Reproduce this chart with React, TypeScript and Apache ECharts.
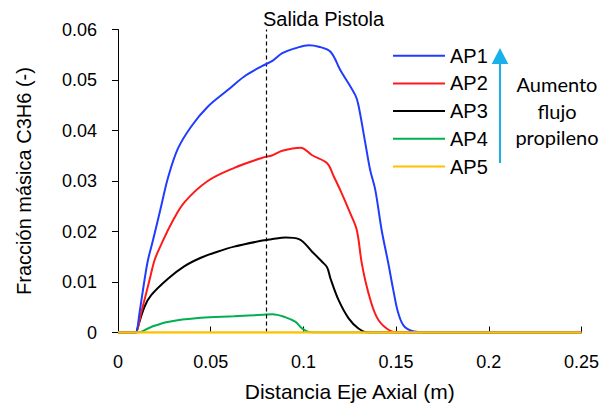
import React, { useEffect, useRef } from "react";
import * as echarts from "echarts";

const seriesNames = ["AP1", "AP2", "AP3", "AP4", "AP5"];
const seriesColors = ["#1f3cff", "#ff1a1a", "#000000", "#00b050", "#ffc000"];

const ap1: [number, number][] = [
  [0, 0], [0.009, 0], [0.0097, 0], [0.0116, 0.0039], [0.0143, 0.0104], [0.0162, 0.0144], [0.0189, 0.0183],
  [0.0234, 0.0252], [0.027, 0.0307], [0.0323, 0.0364], [0.0395, 0.0408], [0.0484, 0.0447],
  [0.0592, 0.048], [0.0681, 0.0507], [0.0779, 0.0528], [0.0833, 0.0538], [0.0886, 0.0553],
  [0.0958, 0.0563], [0.1029, 0.0569], [0.1083, 0.0566], [0.1146, 0.0556], [0.1199, 0.052],
  [0.128, 0.047], [0.1297, 0.045], [0.1334, 0.0375], [0.136, 0.0322], [0.1388, 0.0282],
  [0.1422, 0.0203], [0.1458, 0.0137], [0.1485, 0.0084], [0.1512, 0.0038], [0.1547, 0.0011],
  [0.162, 0.0001], [0.17, 0], [0.25, 0],
];
const ap2: [number, number][] = [
  [0, 0], [0.009, 0], [0.0097, 0], [0.0125, 0.0039], [0.017, 0.0104], [0.0198, 0.0144], [0.0234, 0.0175],
  [0.0288, 0.0216], [0.0359, 0.0258], [0.0484, 0.0300], [0.0627, 0.0326], [0.0779, 0.0346],
  [0.0833, 0.0351], [0.0886, 0.036], [0.0985, 0.0366], [0.1047, 0.0351], [0.1128, 0.0335],
  [0.1164, 0.0309], [0.1199, 0.0282], [0.1253, 0.0236], [0.1288, 0.0203], [0.1315, 0.0137],
  [0.1351, 0.0078], [0.1395, 0.0031], [0.1449, 0.0008], [0.151, 0], [0.25, 0],
];
const ap3: [number, number][] = [
  [0, 0], [0.009, 0], [0.0097, 0], [0.0107, 0.0011], [0.0143, 0.0051], [0.0179, 0.0074], [0.0268, 0.0106],
  [0.0357, 0.0131], [0.0447, 0.0148], [0.0536, 0.016], [0.0626, 0.017], [0.0779, 0.0182],
  [0.0833, 0.0185], [0.0904, 0.0188], [0.0976, 0.0185], [0.1047, 0.016], [0.1101, 0.014],
  [0.1128, 0.0129], [0.1146, 0.0107], [0.119, 0.0064], [0.1244, 0.0028], [0.1297, 0.0008],
  [0.1351, 0], [0.25, 0],
];
const ap4: [number, number][] = [
  [0, 0], [0.0107, 0], [0.0179, 0.0011], [0.0268, 0.0021], [0.0447, 0.0029], [0.0626, 0.0032],
  [0.0779, 0.0035], [0.0833, 0.0036], [0.0904, 0.003], [0.0958, 0.0021], [0.0993, 0.0008],
  [0.1029, 0.0001], [0.11, 0], [0.25, 0],
];
const ap5: [number, number][] = [
  [0, 0], [0.25, 0],
];
const seriesData = [ap1, ap2, ap3, ap4, ap5];

const salidaPistolaX = 0.0778;
const annotationLines = ["Aumento", "flujo", "propileno"];

export default function App() {
  const ref = useRef<HTMLDivElement>(null);
  useEffect(() => {
    if (!ref.current) return;
    const chart = echarts.init(ref.current, null, { renderer: "svg" });
    const font = "'Liberation Sans', Arial, sans-serif";
    const series: any[] = seriesNames.map((name, i) => ({
      name,
      type: "line",
      data: seriesData[i],
      showSymbol: false,
      symbol: "none",
      smooth: 0.35,
      lineStyle: { color: seriesColors[i], width: i === 4 ? 2.5 : 2 },
      itemStyle: { color: seriesColors[i] },
      z: i === 4 ? 10 : 5 - i,
    }));
    series[0].markLine = {
      silent: true,
      symbol: "none",
      label: { show: false },
      lineStyle: { color: "#000", type: [4, 3], width: 1.2 },
      data: [{ xAxis: salidaPistolaX }],
    };
    chart.setOption({
      animation: false,
      backgroundColor: "#fff",
      textStyle: { fontFamily: font },
      grid: { left: 118, right: 18, top: 29.5, bottom: 75.5, containLabel: false },
      legend: {
        orient: "vertical",
        left: 393,
        top: 45.7,
        padding: 0,
        icon: "rect",
        itemWidth: 52,
        itemHeight: 2,
        itemGap: 7.7,
        textStyle: { fontSize: 20, color: "#000", fontFamily: font, lineHeight: 20 },
        data: seriesNames,
      },
      xAxis: {
        type: "value",
        min: 0,
        max: 0.25,
        interval: 0.05,
        name: "Distancia Eje Axial (m)",
        nameLocation: "middle",
        nameGap: 48,
        nameTextStyle: { fontSize: 21, color: "#000", fontFamily: font },
        axisLine: { lineStyle: { color: "#000", width: 1 } },
        axisTick: { inside: true, length: 6, lineStyle: { color: "#000" } },
        axisLabel: { fontSize: 18, color: "#000", margin: 20, fontFamily: font },
        splitLine: { show: false },
      },
      yAxis: {
        type: "value",
        min: 0,
        max: 0.06,
        interval: 0.01,
        name: "Fracción másica C3H6 (-)",
        nameLocation: "middle",
        nameGap: 84,
        nameTextStyle: { fontSize: 20, color: "#000", fontFamily: font },
        axisLine: { show: true, lineStyle: { color: "#000", width: 1 } },
        axisTick: { show: true, inside: false, length: 6, lineStyle: { color: "#000" } },
        axisLabel: { fontSize: 18, color: "#000", margin: 21, fontFamily: font },
        splitLine: { show: false },
      },
      graphic: [
        {
          type: "text",
          left: 263,
          top: 9,
          style: { text: "Salida Pistola", fontSize: 20, fill: "#000", fontFamily: font },
        },
        {
          type: "line",
          shape: { x1: 500, y1: 163, x2: 500, y2: 60 },
          style: { stroke: "#1ab0ea", lineWidth: 2 },
        },
        {
          type: "polygon",
          shape: { points: [[491.7, 64], [508.3, 64], [500, 48]] },
          style: { fill: "#1ab0ea" },
        },
        ...annotationLines.map((t, i) => ({
          type: "text",
          x: 557,
          y: 84 + i * 26.5,
          style: {
            text: t,
            fontSize: 20,
            fill: "#000",
            fontFamily: "Lato, sans-serif",
            align: "center",
            verticalAlign: "middle",
          },
        })),
      ],
      series,
    });
    return () => chart.dispose();
  }, []);
  return <div ref={ref} style={{ width: 602, height: 408, position: "absolute", left: 0, top: 0 }} />;
}
